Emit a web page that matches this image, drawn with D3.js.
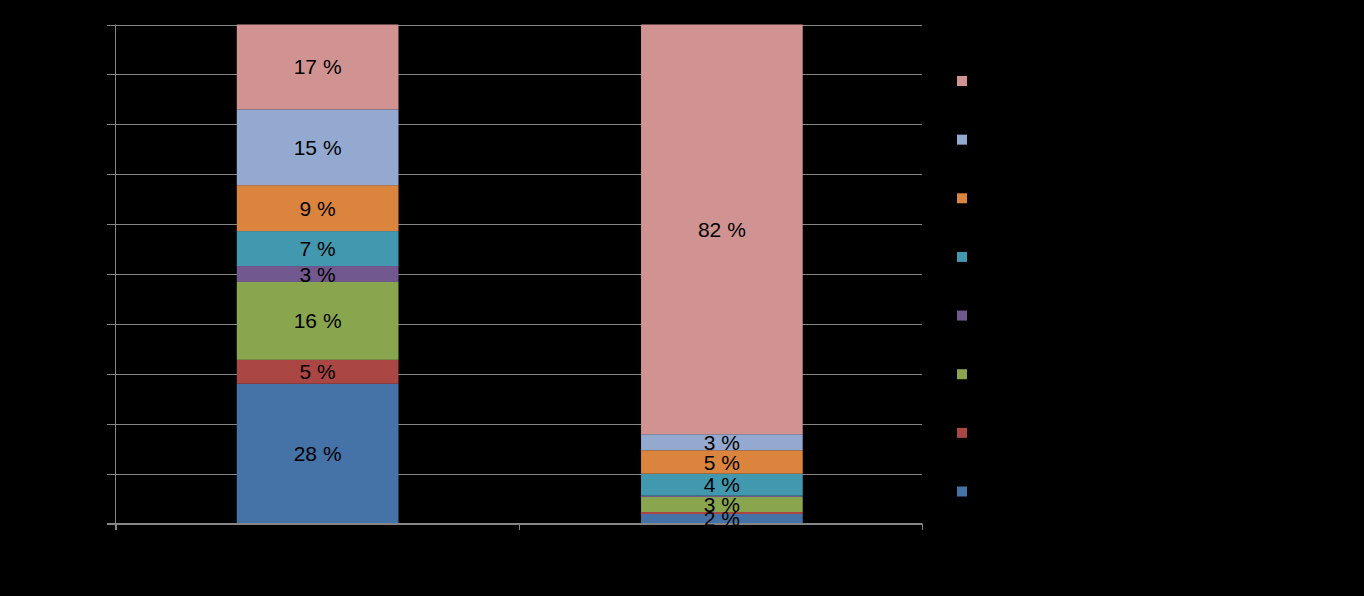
<!DOCTYPE html>
<html>
<head>
<meta charset="utf-8">
<script src="https://cdn.jsdelivr.net/npm/d3@7/dist/d3.min.js"></script>
<style>
html,body{margin:0;padding:0;background:#000;}
svg{display:block;}
</style>
</head>
<body>
<script>
// Data
const categories = ["Kategorie 1", "Kategorie 2"];
const seriesNames = ["Serie 1","Serie 2","Serie 3","Serie 4","Serie 5","Serie 6","Serie 7","Serie 8"];
const series1 = [28.0, 1.9];
const series2 = [4.8, 0.4];
const series3 = [15.6, 3.0];
const series4 = [3.2, 0.26];
const series5 = [7.0, 4.4];
const series6 = [9.2, 4.7];
const series7 = [15.2, 3.2];
const series8 = [17.0, 82.0];
const showLabel = [[true,true],[true,false],[true,true],[true,false],[true,true],[true,true],[true,true],[true,true]];
const yTicks = [0,0.1,0.2,0.3,0.4,0.5,0.6,0.7,0.8,0.9,1];
const colors = ["#4572A7","#AA4643","#89A54E","#71588F","#4198AF","#DB843D","#93A9CF","#D19392"];

const allSeries = [series1,series2,series3,series4,series5,series6,series7,series8];
const table = categories.map((c,i)=>{
  const row = {cat:c};
  seriesNames.forEach((s,j)=>row[s]=allSeries[j][i]);
  return row;
});

const W=1364,H=596;
const svg=d3.select("body").append("svg").attr("width",W).attr("height",H);
svg.append("rect").attr("width",W).attr("height",H).attr("fill","#000");

const pL=115.5,pR=922,pT=24.5,pB=523.5;
const x=d3.scaleBand().domain(categories).range([pL,pR+2]).paddingInner(0.6).paddingOuter(0.3);
const y=d3.scaleLinear().domain([0,1]).range([pB,pT]);

// gridlines
svg.append("g").selectAll("line").data(yTicks).join("line")
  .attr("x1",107).attr("x2",pR).attr("y1",d=>Math.round(y(d))+0.5).attr("y2",d=>Math.round(y(d))+0.5)
  .attr("stroke","#868686").attr("stroke-width",1);

const stack=d3.stack().keys(seriesNames).offset(d3.stackOffsetExpand);
const stacked=stack(table);

const g=svg.append("g");
stacked.forEach((layer,j)=>{
  g.append("g").selectAll("rect").data(layer).join("rect")
    .attr("x",d=>x(d.data.cat))
    .attr("width",x.bandwidth())
    .attr("y",d=>y(d[1]))
    .attr("height",d=>y(d[0])-y(d[1]))
    .attr("fill",colors[j]);
});

// axes
svg.append("line").attr("x1",pL).attr("x2",pL).attr("y1",pT).attr("y2",530).attr("stroke","#868686");
svg.append("line").attr("x1",107).attr("x2",pR).attr("y1",pB).attr("y2",pB).attr("stroke","#868686");
const xTickPos=[pL,(pL+pR)/2,pR];
svg.append("g").selectAll("line").data(xTickPos).join("line")
  .attr("x1",d=>Math.round(d)+0.5).attr("x2",d=>Math.round(d)+0.5)
  .attr("y1",pB).attr("y2",530).attr("stroke","#868686");

// labels
const lg=svg.append("g").attr("font-family","'Liberation Sans', Arial, sans-serif").attr("font-size",21).attr("fill","#000").attr("text-anchor","middle");
stacked.forEach((layer,j)=>{
  layer.forEach((d,i)=>{
    if(!showLabel[j][i]) return;
    lg.append("text")
      .attr("x",x(d.data.cat)+x.bandwidth()/2)
      .attr("y",(y(d[0])+y(d[1]))/2)
      .attr("dy","0.36em")
      .text(Math.round(allSeries[j][i])+" %");
  });
});

// legend
const legY=d3.scalePoint().domain(seriesNames.slice().reverse()).range([81,491.5]);
svg.append("g").selectAll("rect").data(seriesNames).join("rect")
  .attr("x",957).attr("y",d=>legY(d)-5).attr("width",10).attr("height",10)
  .attr("fill",(d,i)=>colors[i]);
</script>
</body>
</html>
